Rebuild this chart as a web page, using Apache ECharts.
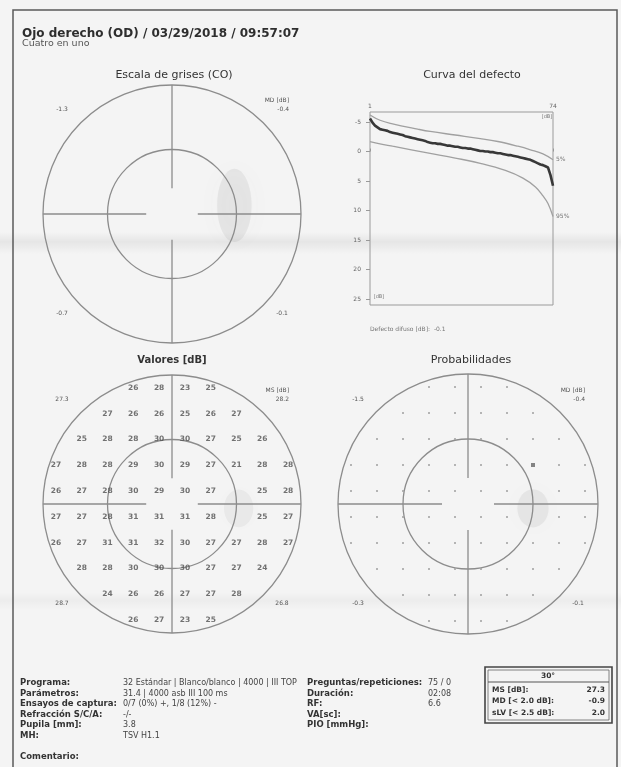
<!DOCTYPE html>
<html>
<head>
<meta charset="utf-8">
<script src="https://cdn.jsdelivr.net/npm/echarts@6/dist/echarts.min.js"></script>
<style>
html,body{margin:0;padding:0;background:#f4f4f4;}
#chart{width:621px;height:767px;}
</style>
</head>
<body>
<div id="chart"></div>
<script>
// ---- Perimetry values (dB), rows from superior to inferior, null = blind spot ----
const sensitivity = [
  [26, 28, 23, 25],
  [27, 26, 26, 25, 26, 27],
  [25, 28, 28, 30, 30, 27, 25, 26],
  [27, 28, 28, 29, 30, 29, 27, 21, 28, 28],
  [26, 27, 28, 30, 29, 30, 27, null, 25, 28],
  [27, 27, 28, 31, 31, 31, 28, null, 25, 27],
  [26, 27, 31, 31, 32, 30, 27, 27, 28, 27],
  [28, 28, 30, 30, 30, 27, 27, 24],
  [24, 26, 26, 27, 27, 28],
  [26, 27, 23, 25]
];
// probability class per location: 0 = not significant, 1 = p < 5 %
const probClass = [
  [0, 0, 0, 0],
  [0, 0, 0, 0, 0, 0],
  [0, 0, 0, 0, 0, 0, 0, 0],
  [0, 0, 0, 0, 0, 0, 0, 1, 0, 0],
  [0, 0, 0, 0, 0, 0, 0, null, 0, 0],
  [0, 0, 0, 0, 0, 0, 0, null, 0, 0],
  [0, 0, 0, 0, 0, 0, 0, 0, 0, 0],
  [0, 0, 0, 0, 0, 0, 0, 0],
  [0, 0, 0, 0, 0, 0],
  [0, 0, 0, 0]
];
const rowDeg = [27, 21, 15, 9, 3, -3, -9, -15, -21, -27];
const gridStep = 6;          // degrees between test locations
const rings = [30, 15];      // eccentricity circles (deg)
// blind spot shading per panel: [x, y, rx, ry] in degrees
const greyBlindSpot  = [14.5, 2, 4, 8.5];
const valueBlindSpot = [15.5, -1, 3.4, 4.4];
const probBlindSpot  = [15, -1, 3.6, 4.4];

// quadrant figures: top-left, top-right, bottom-left, bottom-right
const greyCorners  = ['-1.3', '-0.4', '-0.7', '-0.1'];
const valueCorners = ['27.3', '28.2', '28.7', '26.8'];
const probCorners  = ['-1.5', '-0.4', '-0.3', '-0.1'];

// ---- Defect curve (Bebie) ----
const defectRanks = Array.from({length: 74}, (_, i) => i + 1);
const defectCurve = [
  -5.6, -4.9, -4.4, -4.1, -3.8, -3.7, -3.6, -3.5, -3.3, -3.2,
  -3.1, -3.0, -2.9, -2.8, -2.6, -2.5, -2.4, -2.3, -2.2, -2.1,
  -2.0, -1.9, -1.8, -1.6, -1.5, -1.4, -1.4, -1.3, -1.3, -1.2,
  -1.1, -1.0, -1.0, -0.9, -0.8, -0.8, -0.7, -0.6, -0.6, -0.5,
  -0.5, -0.4, -0.3, -0.2, -0.1, -0.1, 0.0, 0.0, 0.1, 0.1,
  0.2, 0.3, 0.3, 0.4, 0.5, 0.6, 0.6, 0.7, 0.8, 0.9,
  1.0, 1.1, 1.2, 1.3, 1.4, 1.6, 1.8, 2.0, 2.2, 2.3,
  2.5, 2.7, 4.0, 5.8
];
const normalUpper = [[1,-6.2],[5,-5.3],[10,-4.7],[20,-3.8],[25,-3.4],[35,-2.8],[45,-2.2],[52,-1.7],[60,-0.9],[65,-0.3],[70,0.4],[74,1.4]];
const normalLower = [[1,-1.7],[10,-0.9],[25,0.3],[35,1.1],[45,2.0],[55,3.2],[62,4.5],[67,6.0],[70,7.5],[72,8.8],[74,11.0]];
const defectTicks = [-5, 0, 5, 10, 15, 20, 25];
const rankTicks = [1, 74];
const diffuseDefect = '-0.1';

// ---- Report text ----
const titleText = 'Ojo derecho (OD) / 03/29/2018 / 09:57:07';
const subtitleText = 'Cuatro en uno';
const infoLeft = [
  ['Programa:', '32 Estándar | Blanco/blanco | 4000 | III TOP'],
  ['Parámetros:', '31.4 | 4000 asb III 100 ms'],
  ['Ensayos de captura:', '0/7 (0%) +, 1/8 (12%) -'],
  ['Refracción S/C/A:', '-/-'],
  ['Pupila [mm]:', '3.8'],
  ['MH:', 'TSV H1.1']
];
const infoMid = [
  ['Preguntas/repeticiones:', '75 / 0'],
  ['Duración:', '02:08'],
  ['RF:', '6.6'],
  ['VA[sc]:', ''],
  ['PIO [mmHg]:', '']
];
const summary = [
  ['MS [dB]:', '27.3'],
  ['MD [< 2.0 dB]:', '-0.9'],
  ['sLV [< 2.5 dB]:', '2.0']
];

const FONT = '"DejaVu Sans", Verdana, sans-serif';
const LINE = '#8c8c8c';

function locations(table) {
  const out = [];
  table.forEach((row, r) => {
    const x0 = -(row.length - 1) * gridStep / 2;
    row.forEach((v, i) => { if (v !== null) out.push([x0 + i * gridStep, rowDeg[r], v]); });
  });
  return out;
}

// circle grids
const fieldGrids = [
  {left: 43, top: 85, width: 258, height: 258},    // grey scale
  {left: 43, top: 375, width: 258, height: 258},   // values
  {left: 338, top: 374, width: 260, height: 260}   // probabilities
];
const defectGrid = {left: 370, top: 112, width: 183, height: 193};

const grids = fieldGrids.map(g => Object.assign({}, g));
grids.push(Object.assign({show: true, borderColor: '#9a9a9a', borderWidth: 1, backgroundColor: 'transparent'}, defectGrid));

const xAxes = [], yAxes = [];
for (let i = 0; i < 3; i++) {
  xAxes.push({type: 'value', gridIndex: i, min: -30, max: 30, show: false});
  yAxes.push({type: 'value', gridIndex: i, min: -30, max: 30, show: false});
}
xAxes.push({
  type: 'value', gridIndex: 3, min: 1, max: 74, position: 'top',
  axisLine: {show: false}, splitLine: {show: false},
  axisTick: {show: true, customValues: rankTicks, length: 3, inside: false, lineStyle: {color: '#999'}},
  axisLabel: {customValues: rankTicks, fontSize: 6, color: '#666', fontFamily: FONT, margin: 3}
});
yAxes.push({
  type: 'value', gridIndex: 3, min: -6.7, max: 26, inverse: true,
  axisLine: {show: false}, splitLine: {show: false},
  axisTick: {show: true, customValues: defectTicks, length: 4, lineStyle: {color: '#999'}},
  axisLabel: {customValues: defectTicks, fontSize: 6, color: '#666', fontFamily: FONT, margin: 9}
});

function fieldFrame(idx) {
  // eccentricity circles
  const ringSeries = {
    type: 'custom', xAxisIndex: idx, yAxisIndex: idx, silent: true, z: 3,
    data: rings.map(r => [r]),
    renderItem: (params, api) => {
      const c = api.coord([0, 0]);
      const r = api.size([api.value(0), 0])[0];
      return {type: 'circle', shape: {cx: c[0], cy: c[1], r: r},
        style: {fill: 'none', stroke: LINE, lineWidth: 1.3}};
    }
  };
  // meridians, interrupted around fixation
  const meridians = {
    type: 'custom', xAxisIndex: idx, yAxisIndex: idx, silent: true, z: 3,
    data: [[1, 0], [-1, 0], [0, 1], [0, -1]],
    renderItem: (params, api) => {
      const dx = api.value(0), dy = api.value(1);
      const a = api.coord([dx * gridStep, dy * gridStep]);
      const b = api.coord([dx * rings[0], dy * rings[0]]);
      return {type: 'line', shape: {x1: a[0], y1: a[1], x2: b[0], y2: b[1]},
        style: {stroke: LINE, lineWidth: 1.3}};
    }
  };
  return [ringSeries, meridians];
}

function blindSpotSeries(idx, spot, alpha) {
  return {
    type: 'custom', xAxisIndex: idx, yAxisIndex: idx, silent: true, z: 1,
    data: [spot],
    renderItem: (params, api) => {
      const c = api.coord([api.value(0), api.value(1)]);
      const s = api.size([api.value(2), api.value(3)]);
      return {type: 'ellipse', shape: {cx: c[0], cy: c[1], rx: s[0], ry: s[1]},
        style: {fill: 'rgba(120,120,120,' + alpha + ')', shadowBlur: s[0] * 1.6,
          shadowColor: 'rgba(110,110,110,' + (alpha * 2.2) + ')'}};
    }
  };
}

const series = [];
series.push(...fieldFrame(0), ...fieldFrame(1), ...fieldFrame(2));
series.push(blindSpotSeries(0, greyBlindSpot, 0.11));
series.push(blindSpotSeries(1, valueBlindSpot, 0.08));
series.push(blindSpotSeries(2, probBlindSpot, 0.1));

// sensitivity numbers
series.push({
  type: 'scatter', xAxisIndex: 1, yAxisIndex: 1, z: 5, silent: true,
  symbolSize: 0, data: locations(sensitivity),
  label: {show: true, position: 'inside', formatter: p => p.value[2],
    fontSize: 7.5, fontWeight: 'bold', color: '#505050', fontFamily: FONT}
});
// probability symbols
const probPts = locations(probClass);
series.push({
  type: 'scatter', xAxisIndex: 2, yAxisIndex: 2, z: 5, silent: true,
  symbol: 'rect', data: probPts.filter(p => p[2] === 0), symbolSize: 2,
  itemStyle: {color: '#a4a4a4'}
});
series.push({
  type: 'scatter', xAxisIndex: 2, yAxisIndex: 2, z: 5, silent: true,
  symbol: 'rect', data: probPts.filter(p => p[2] === 1), symbolSize: 4,
  itemStyle: {color: '#666'}
});

// defect curve with normal band
series.push({
  type: 'line', xAxisIndex: 3, yAxisIndex: 3, data: normalUpper, smooth: 0.4,
  showSymbol: false, lineStyle: {color: '#a0a0a0', width: 1.3}, z: 2,
  endLabel: {show: true, formatter: '5%', fontSize: 6, color: '#777', fontFamily: FONT, distance: 3}
});
series.push({
  type: 'line', xAxisIndex: 3, yAxisIndex: 3, data: normalLower, smooth: 0.4,
  showSymbol: false, lineStyle: {color: '#a0a0a0', width: 1.3}, z: 2,
  endLabel: {show: true, formatter: '95%', fontSize: 6, color: '#777', fontFamily: FONT, distance: 3}
});
series.push({
  type: 'line', xAxisIndex: 3, yAxisIndex: 3,
  data: defectRanks.map((r, i) => [r, defectCurve[i]]),
  showSymbol: false, lineStyle: {color: '#383838', width: 2.6}, z: 4
});

// ---- text and frame ----
const g = [];
function txt(x, y, text, opt) {
  g.push(Object.assign({type: 'text', x: x, y: y, silent: true, style: Object.assign({
    text: text, fill: '#444', font: '7px ' + FONT, textAlign: 'left', textVerticalAlign: 'middle'
  }, opt || {})}));
}
// paper fold shading
function fold(y, h, a) {
  g.push({type: 'rect', shape: {x: 0, y: y, width: 621, height: h}, silent: true, z: -10,
    style: {fill: {type: 'linear', x: 0, y: 0, x2: 0, y2: 1, colorStops: [
      {offset: 0, color: 'rgba(0,0,0,0)'},
      {offset: 0.45, color: 'rgba(0,0,0,' + a + ')'},
      {offset: 1, color: 'rgba(0,0,0,0)'}]}}});
}
fold(232, 22, 0.06);
fold(592, 18, 0.03);

// page frame
g.push({type: 'polyline', shape: {points: [[13, 767], [13, 10], [617, 10], [617, 767]]},
  style: {fill: 'none', stroke: '#5a5a5a', lineWidth: 1.5}, silent: true});

txt(22, 34, titleText, {font: 'bold 12px ' + FONT, fill: '#2e2e2e'});
txt(22, 44, subtitleText, {font: '9.5px ' + FONT, fill: '#555'});

const ptitle = {font: '11px ' + FONT, fill: '#333', textAlign: 'center'};
txt(174, 75, 'Escala de grises (CO)', ptitle);
txt(472, 75, 'Curva del defecto', ptitle);
txt(172, 360, 'Valores [dB]', Object.assign({}, ptitle, {font: 'bold 10px ' + FONT}));
txt(471, 360, 'Probabilidades', ptitle);

const small = {font: '6px ' + FONT, fill: '#555'};
function corners(cx, cy, vals, head) {
  txt(cx - 110, cy - 105, vals[0], Object.assign({textAlign: 'center'}, small));
  txt(cx + 117, cy - 114, head, Object.assign({textAlign: 'right'}, small));
  txt(cx + 117, cy - 105, vals[1], Object.assign({textAlign: 'right'}, small));
  txt(cx - 110, cy + 99, vals[2], Object.assign({textAlign: 'center'}, small));
  txt(cx + 110, cy + 99, vals[3], Object.assign({textAlign: 'center'}, small));
}
corners(172, 214, greyCorners, 'MD [dB]');
corners(172, 504, valueCorners, 'MS [dB]');
corners(468, 504, probCorners, 'MD [dB]');

txt(379, 297, '[dB]', {font: '5px ' + FONT, fill: '#777', textAlign: 'center'});
txt(547, 117, '[dB]', {font: '5px ' + FONT, fill: '#777', textAlign: 'center'});
txt(370, 329, 'Defecto difuso [dB]:  ' + diffuseDefect, {font: '6px ' + FONT, fill: '#777'});

// report information
const lab = {font: 'bold 8.5px ' + FONT, fill: '#333'};
const val = {font: '8px ' + FONT, fill: '#444'};
infoLeft.forEach((row, i) => {
  const y = 683 + i * 10.5;
  txt(20, y, row[0], lab);
  txt(123, y, row[1], val);
});
txt(20, 757, 'Comentario:', lab);
infoMid.forEach((row, i) => {
  const y = 683 + i * 10.5;
  txt(307, y, row[0], lab);
  txt(428, y, row[1], val);
});

// summary box
g.push({type: 'rect', shape: {x: 485, y: 667, width: 127, height: 56},
  style: {fill: 'none', stroke: '#444', lineWidth: 1.6}, silent: true});
g.push({type: 'rect', shape: {x: 488, y: 670, width: 121, height: 50},
  style: {fill: 'none', stroke: '#666', lineWidth: 0.8}, silent: true});
g.push({type: 'line', shape: {x1: 488, y1: 682, x2: 609, y2: 682},
  style: {stroke: '#555', lineWidth: 1}, silent: true});
txt(548, 676, '30°', {font: 'bold 7.5px ' + FONT, fill: '#333', textAlign: 'center'});
summary.forEach((row, i) => {
  const y = 690 + i * 11.5;
  txt(492, y, row[0], {font: 'bold 7.5px ' + FONT, fill: '#333'});
  txt(605, y, row[1], {font: 'bold 7.5px ' + FONT, fill: '#333', textAlign: 'right'});
});

const chart = echarts.init(document.getElementById('chart'), null, {renderer: 'canvas'});
chart.setOption({
  backgroundColor: '#f4f4f4',
  animation: false,
  grid: grids,
  xAxis: xAxes,
  yAxis: yAxes,
  series: series,
  graphic: g
});
</script>
</body>
</html>
